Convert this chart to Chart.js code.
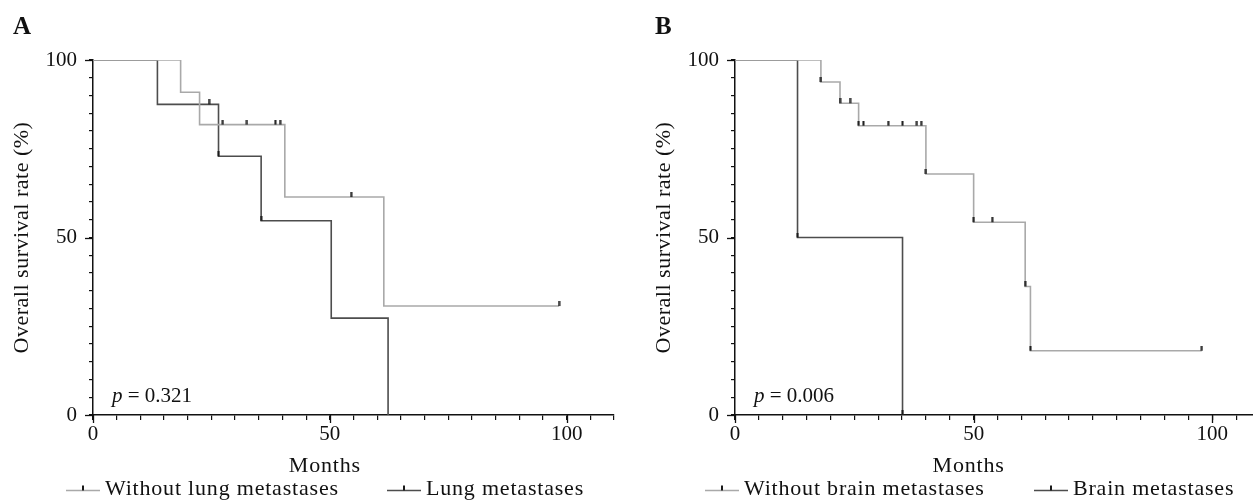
<!DOCTYPE html>
<html>
<head>
<meta charset="utf-8">
<script src="https://cdn.jsdelivr.net/npm/chart.js@4.4.1/dist/chart.umd.min.js"></script>
<style>
  html, body { margin: 0; padding: 0; background: #fff; overflow: hidden; width: 1253px; height: 502px; }
  .panel { position: absolute; top: 0; height: 502px; }
  #boxA { left: 0; width: 626px; }
  #boxB { left: 626px; width: 640px; }
</style>
</head>
<body>
<div class="panel" id="boxA"><canvas id="chartA"></canvas></div>
<div class="panel" id="boxB"><canvas id="chartB"></canvas></div>
<script>
// Panel A - lung metastases (months / survival %)
const tiemposSinPulmon = [0, 18.5, 22.5, 40.5, 61.4, 98.4];
const survSinPulmon    = [100, 90.9, 81.8, 61.4, 30.7, 30.7];
const censSinPulmonT   = [27.4, 32.5, 38.5, 39.5, 54.5, 98.4];
const censSinPulmonS   = [81.8, 81.8, 81.8, 81.8, 61.4, 30.7];

const tiemposPulmon = [0, 13.6, 26.5, 35.5, 50.3, 62.3];
const survPulmon    = [100, 87.5, 72.9, 54.7, 27.3, 0];
const censPulmonT   = [24.5, 26.5, 35.5];
const censPulmonS   = [87.5, 72.9, 54.7];

// Panel B - brain metastases
const tiemposSinCerebro = [0, 18, 22, 25.9, 40, 50, 60.8, 61.9, 97.8];
const survSinCerebro    = [100, 93.8, 87.8, 81.5, 67.9, 54.3, 36.2, 18.1, 18.1];
const censSinCerebroT   = [18, 22, 24.1, 25.9, 26.9, 32.1, 35.1, 38.1, 39.0, 40, 50, 53.9, 60.8, 61.9, 97.8];
const censSinCerebroS   = [93.8, 87.8, 87.8, 81.5, 81.5, 81.5, 81.5, 81.5, 81.5, 67.9, 54.3, 54.3, 36.2, 18.1, 18.1];

const tiemposCerebro = [0, 13.1, 35.1];
const survCerebro    = [100, 50, 0];
const censCerebroT   = [13.1, 35.1];
const censCerebroS   = [50, 0];

const etiquetasX = [0, 50, 100];
const etiquetasY = [0, 50, 100];

const GRIS = '#a9a9a9';
const OSCURO = '#4d4d4d';
const NEGRO = '#111';
const FUENTE = '"Liberation Serif", "Times New Roman", serif';

function puntos(t, s) {
    return t.map((v, i) => ({ x: v, y: s[i] }));
}

// little vertical tick used for censored cases
function marcaCensura() {
    const c = document.createElement('canvas');
    c.width = 3; c.height = 10;
    const g = c.getContext('2d');
    g.fillStyle = '#1a1a1a';
    g.fillRect(0.5, 0, 2, 5);
    return c;
}
const marca = marcaCensura();

const decoracion = {
    id: 'kmDecor',
    afterDraw(chart, args, o) {
        const ctx = chart.ctx;
        const area = chart.chartArea;
        const sx = chart.scales.x, sy = chart.scales.y;
        ctx.save();
        ctx.strokeStyle = NEGRO;
        ctx.lineWidth = 1.3;
        // longer major ticks
        etiquetasY.forEach(v => {
            const py = Math.round(sy.getPixelForValue(v)) + 0.5;
            ctx.beginPath(); ctx.moveTo(area.left - 8, py); ctx.lineTo(area.left, py); ctx.stroke();
        });
        etiquetasX.forEach(v => {
            const px = Math.round(sx.getPixelForValue(v)) + 0.5;
            ctx.beginPath(); ctx.moveTo(px, area.bottom); ctx.lineTo(px, area.bottom + 8); ctx.stroke();
        });

        ctx.fillStyle = NEGRO;
        ctx.textBaseline = 'middle';

        // panel letter
        ctx.font = 'bold 25px ' + FUENTE;
        ctx.textAlign = 'left';
        ctx.fillText(o.letra, area.left - 80, 28);

        // y title
        ctx.save();
        ctx.font = '22px ' + FUENTE;
        ctx.letterSpacing = '0.5px';
        ctx.translate(area.left - 71, (area.top + area.bottom) / 2);
        ctx.rotate(-Math.PI / 2);
        ctx.textAlign = 'center';
        ctx.fillText('Overall survival rate (%)', 0, 0);
        ctx.restore();

        // x title
        ctx.font = '22px ' + FUENTE;
        ctx.letterSpacing = '0.8px';
        ctx.textAlign = 'center';
        ctx.fillText('Months', sx.getPixelForValue(50) - 5, 466);

        // p value
        ctx.letterSpacing = '0px';
        ctx.textAlign = 'left';
        ctx.font = 'italic 21px ' + FUENTE;
        const px0 = area.left + 19;
        ctx.fillText('p', px0, 396);
        const wp = ctx.measureText('p').width;
        ctx.font = '21px ' + FUENTE;
        ctx.fillText(' = ' + o.p, px0 + wp, 396);

        // legend
        ctx.font = '22px ' + FUENTE;
        ctx.letterSpacing = '0.8px';
        o.leyenda.forEach(it => {
            const x0 = area.left + it.dx;
            const y0 = 490.5;
            ctx.strokeStyle = it.color;
            ctx.lineWidth = 1.6;
            ctx.beginPath(); ctx.moveTo(x0, y0); ctx.lineTo(x0 + 34, y0); ctx.stroke();
            ctx.fillStyle = '#1a1a1a';
            ctx.fillRect(x0 + 16, y0 - 5, 2, 5);
            ctx.fillStyle = NEGRO;
            ctx.fillText(it.texto, x0 + 39, y0 - 1);
        });
        ctx.restore();
    }
};

function crearGrafica(id, series, opciones) {
    const datasets = [];
    series.forEach(s => {
        datasets.push({
            label: s.nombre,
            data: puntos(s.t, s.s),
            stepped: 'before',   // horizontal first, then the drop
            borderColor: s.color,
            borderWidth: 1.6,
            pointRadius: 0,
            fill: false,
            order: 2
        });
        datasets.push({
            label: s.nombre + ' censored',
            data: puntos(s.ct, s.cs),
            showLine: false,
            pointStyle: marca,
            pointRadius: 3,
            order: 1
        });
    });

    return new Chart(document.getElementById(id), {
        type: 'line',
        data: { datasets },
        options: {
            responsive: true,
            maintainAspectRatio: false,
            animation: false,
            layout: { padding: { top: 60, right: opciones.derecha, left: 0, bottom: 0 } },
            plugins: {
                legend: { display: false },
                tooltip: { enabled: false },
                kmDecor: opciones.decor
            },
            scales: {
                x: {
                    type: 'linear', min: 0, max: 110,
                    border: { display: true, color: NEGRO, width: 1.5 },
                    grid: { drawOnChartArea: false, drawTicks: true, tickLength: 5, color: NEGRO, lineWidth: 1.2 },
                    ticks: {
                        stepSize: 5, autoSkip: false, maxTicksLimit: 40, maxRotation: 0, padding: 2,
                        color: NEGRO, font: { family: FUENTE, size: 21 },
                        callback: v => etiquetasX.includes(v) ? String(v) : ''
                    },
                    afterFit: s => { s.height = 87; }
                },
                y: {
                    min: 0, max: 100,
                    border: { display: true, color: NEGRO, width: 1.5 },
                    grid: { drawOnChartArea: false, drawTicks: true, tickLength: 4, color: NEGRO, lineWidth: 1.2 },
                    ticks: {
                        stepSize: 5, autoSkip: false, maxTicksLimit: 40, padding: 12,
                        color: NEGRO, font: { family: FUENTE, size: 21 },
                        callback: v => etiquetasY.includes(v) ? String(v) : ''
                    },
                    afterFit: s => { s.width = opciones.izquierda; }
                }
            }
        },
        plugins: [decoracion]
    });
}

crearGrafica('chartA', [
    { nombre: 'Without lung metastases', t: tiemposSinPulmon, s: survSinPulmon, ct: censSinPulmonT, cs: censSinPulmonS, color: GRIS },
    { nombre: 'Lung metastases', t: tiemposPulmon, s: survPulmon, ct: censPulmonT, cs: censPulmonS, color: OSCURO }
], {
    izquierda: 93, derecha: 12,
    decor: {
        letra: 'A', p: '0.321',
        leyenda: [
            { texto: 'Without lung metastases', color: GRIS, dx: -27 },
            { texto: 'Lung metastases', color: OSCURO, dx: 294 }
        ]
    }
});

crearGrafica('chartB', [
    { nombre: 'Without brain metastases', t: tiemposSinCerebro, s: survSinCerebro, ct: censSinCerebroT, cs: censSinCerebroS, color: GRIS },
    { nombre: 'Brain metastases', t: tiemposCerebro, s: survCerebro, ct: censCerebroT, cs: censCerebroS, color: OSCURO }
], {
    izquierda: 109, derecha: 6,
    decor: {
        letra: 'B', p: '0.006',
        leyenda: [
            { texto: 'Without brain metastases', color: GRIS, dx: -30 },
            { texto: 'Brain metastases', color: OSCURO, dx: 299 }
        ]
    }
});
</script>
</body>
</html>
